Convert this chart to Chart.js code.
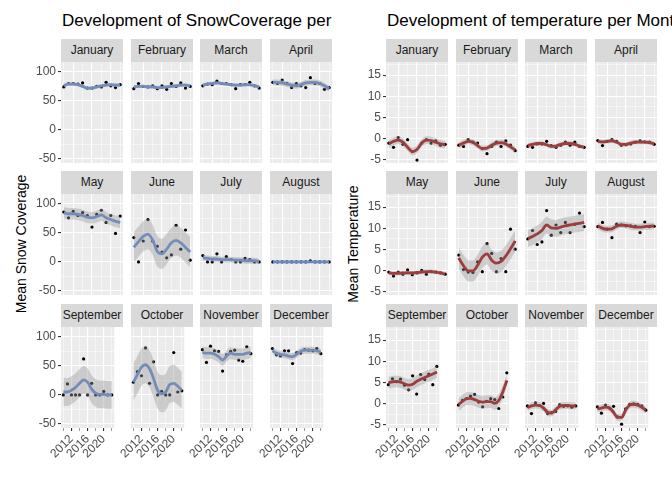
<!DOCTYPE html>
<html><head><meta charset="utf-8">
<script src="https://cdn.jsdelivr.net/npm/chart.js@4"></script>
<style>
body{margin:0;background:#fff;font-family:"Liberation Sans",Arial,sans-serif;}
#wrap{position:relative;width:672px;height:480px;overflow:hidden;}
.half{position:absolute;top:0;height:480px;overflow:hidden;}
.title{position:absolute;top:11px;font-size:17px;color:#000;white-space:nowrap;}
.strip{position:absolute;height:23px;background:#D9D9D9;color:#1A1A1A;font-size:12px;text-align:center;line-height:23px;}
.ylab{position:absolute;font-size:14px;color:#000;transform:rotate(-90deg);white-space:nowrap;}
canvas{position:absolute;}
</style></head>
<body><div id="wrap"></div>
<script>
// Datos: anos y meses
const years = [2010,2011,2012,2013,2014,2015,2016,2017,2018,2019,2020,2021,2022];
const months = ['January','February','March','April','May','June','July','August','September','October','November','December'];

// Cobertura de nieve: puntos, curva suavizada y error
const snowPoints = [
  [74,80,80,79,81,72,72,75,74,82,76,73,78],
  [71,80,75,74,76,71,76,70,80,75,81,72,75],
  [76,79,78,84,80,80,78,71,78,78,82,76,72],
  [82,80,86,80,73,80,76,73,90,80,80,70,73],
  [86,76,87,80,85,80,60,82,89,68,80,49,79],
  [42,0,36,73,36,27,17,7,12,63,22,55,3],
  [11,0,0,14,0,9,4,0,0,6,4,0,0],
  [0,0,0,0,0,0,0,0,2,0,0,0,0],
  [0,19,0,0,0,62,0,20,0,0,6,0,0],
  [22,40,33,81,20,57,0,6,0,0,73,5,7],
  [78,56,84,76,75,41,69,75,77,60,58,83,71],
  [80,69,67,76,76,54,73,72,78,77,76,80,71]
];
const snowSmooth = [
  [76,79,79,78,75,72,72,74,76,77,78,77,77],
  [74,75,75,74,74,73,73,74,75,76,77,77,76],
  [77,79,80,81,80,79,78,77,77,78,78,76,74],
  [82,82,81,79,77,76,78,81,82,82,80,76,71],
  [84,83,83,82,80,77,76,78,81,76,73,70,68],
  [25,35,44,48,38,18,14,22,33,37,33,25,17],
  [7,6,5,5,4,4,4,3,3,2,2,2,1],
  [0,0,0,0,0,0,0,0,0,0,0,0,0],
  [5,5,8,13,20,26,22,10,3,1,1,0,0],
  [22,35,48,52,45,28,8,2,5,18,20,15,8],
  [73,72,72,70,66,60,67,72,70,70,70,72,73],
  [76,72,70,69,67,66,70,75,77,77,77,76,74]
];
const snowSe = [3,3,3,5,10,26,5,1,24,32,10,6];

// Temperatura: puntos, curva suavizada y error
const tempPoints = [
  [-1,-2,0.3,-1.3,-0.2,-3,-5,-1,-0.2,-1,-0.5,-1.5,-1.3],
  [-1.5,-1.8,-0.2,-0.8,-1,-2.3,-3.5,-1.8,-0.8,-1.8,-0.5,-1.5,-2.8],
  [-1.8,-2,-1.2,-1.2,-0.6,-1.6,-2,-1.5,-0.8,-1.5,-0.8,-1.8,-2],
  [-0.4,-1.6,-0.6,-0.2,-0.6,-1.5,-1.4,-1.2,-0.8,-0.5,-0.7,-0.8,-1.3],
  [-0.3,-1.2,-0.3,-0.8,0.2,-0.9,-0.5,0.1,-0.8,-0.2,-0.3,-0.5,-0.8],
  [3.7,0.3,-0.3,-0.4,2.1,-0.2,6.4,4.1,-0.2,2.9,-0.2,9.8,5.1],
  [7.5,9.5,6.2,6.8,14.2,8.4,10.8,9,11.4,9,11,13.6,10.4],
  [10.4,11.4,9.8,7.8,11,10.8,10.6,10.6,10.5,9,11.5,10.4,10.5],
  [4.5,5.9,5.2,5.8,4.4,3.3,6.6,2.3,6.9,5.7,7,4.5,8.8],
  [-0.3,0.8,1.2,1.8,2.2,0.4,-0.7,0.6,1.2,1,-1.1,1.6,7.3],
  [-0.5,-2.3,0.2,-0.4,0.1,-2.3,-2.1,-1.8,-0.2,-0.6,-0.5,-0.8,-0.5],
  [-0.7,-2.2,-0.3,-1,-0.6,-3.1,-4.8,-1.2,-0.1,0,-0.1,-0.5,-1.5]
];
const tempSmooth = [
  [-1.2,-0.6,-0.3,-0.8,-2,-3,-2.5,-1,-0.3,-0.4,-0.8,-1.2,-1.4],
  [-1.5,-1,-0.6,-0.8,-1.6,-2.3,-2.2,-1.5,-1,-0.9,-1.2,-1.9,-2.6],
  [-1.6,-1.3,-1.1,-1.1,-1.4,-1.8,-1.7,-1.3,-1.1,-1.1,-1.3,-1.7,-2],
  [-0.6,-0.7,-0.6,-0.5,-0.8,-1.3,-1.3,-1,-0.8,-0.8,-0.8,-0.9,-1.2],
  [-0.5,-0.6,-0.6,-0.5,-0.5,-0.5,-0.4,-0.3,-0.2,-0.2,-0.3,-0.5,-0.8],
  [3,1.2,0,0,1.3,3.2,4,2.5,1.8,2.2,3.5,5.2,7],
  [7.6,8.1,8.7,9.5,10.8,10.1,10,10.3,10.6,10.8,11,11.2,11.4],
  [10.6,10,9.8,9.9,10.5,10.8,10.7,10.5,10.3,10.3,10.4,10.5,10.6],
  [5,5.2,5.3,5.1,4.7,4.4,4.6,5.3,5.8,6.2,6.6,7,7.5],
  [-0.2,0.6,1.2,1.3,1,0.6,0.4,0.5,0.5,0.1,0.8,2.8,5.5],
  [-0.9,-0.5,-0.3,-0.4,-1,-2,-2.2,-1.4,-0.6,-0.4,-0.4,-0.5,-0.5],
  [-1.2,-1,-0.8,-1,-2,-3.2,-3.2,-1.5,-0.3,-0.1,-0.3,-0.8,-1.5]
];
const tempSe = [0.9,0.7,0.5,0.5,0.5,2.5,2,0.8,1.4,1.5,0.8,0.8];

const $ = (id) => document.getElementById(id);
const wrap = $('wrap');

// Fondo gris del panel
const bgPlugin = {
  id: 'bg',
  beforeDraw(chart) {
    const a = chart.chartArea, ctx = chart.ctx;
    ctx.save(); ctx.fillStyle = '#EBEBEB';
    ctx.fillRect(a.left, a.top, a.right - a.left, a.bottom - a.top);
    ctx.restore();
  }
};

// Etiquetas del eje y dibujadas con la escala (solo primera columna)
const yLabelPlugin = {
  id: 'ylabels',
  afterDraw(chart, args, opts) {
    if (!opts.show) return;
    const s = chart.scales.y, ctx = chart.ctx;
    ctx.save();
    ctx.fillStyle = '#4D4D4D'; ctx.font = '12px "Liberation Sans"';
    ctx.textAlign = 'right'; ctx.textBaseline = 'middle';
    opts.values.forEach(v => ctx.fillText(String(v), s.left + s.width - 5, s.getPixelForValue(v)));
    ctx.restore();
  }
};

const colTops = [62, 194, 327];
const panelH = 101, panelW = 62, yAxisW = 36, xAxisH = 44;

const makeHalf = (cfg) => {
  const half = document.createElement('div');
  half.className = 'half';
  half.style.left = cfg.left + 'px';
  half.style.width = cfg.width + 'px';
  wrap.appendChild(half);

  const t = document.createElement('div');
  t.className = 'title'; t.style.left = (cfg.cols[0] - cfg.left + 1) + 'px';
  t.textContent = cfg.title; half.appendChild(t);

  const yl = document.createElement('div');
  yl.className = 'ylab'; yl.textContent = cfg.ylabel;
  yl.style.left = (cfg.ylabX - 100) + 'px'; yl.style.top = '236px';
  yl.style.width = '200px'; yl.style.textAlign = 'center';
  half.appendChild(yl);

  for (let m = 0; m < 12; m++) {
    const r = Math.floor(m / 4), c = m % 4;
    const px = cfg.cols[c] - cfg.left, py = colTops[r];
    const s = document.createElement('div');
    s.className = 'strip';
    s.style.left = px + 'px'; s.style.top = (py - 23) + 'px'; s.style.width = panelW + 'px';
    s.textContent = months[m]; half.appendChild(s);

    const first = c === 0, bottom = r === 2;
    const w = panelW + yAxisW, h = panelH + (bottom ? xAxisH : 0);
    const cv = document.createElement('canvas');
    cv.style.left = (px - yAxisW) + 'px'; cv.style.top = py + 'px';
    cv.style.width = w + 'px'; cv.style.height = h + 'px';
    half.appendChild(cv);

    const sm = cfg.smooth[m], se = cfg.se[m];
    const xy = (arr) => arr.map((v, i) => ({x: years[i], y: v}));
    new Chart(cv, {
      type: 'line',
      data: { datasets: [
        { data: xy(sm.map(v => v - se)), borderWidth: 0, pointRadius: 0, fill: false, cubicInterpolationMode: 'monotone' },
        { data: xy(sm.map(v => v + se)), borderWidth: 0, pointRadius: 0, fill: '-1', backgroundColor: 'rgba(153,153,153,0.4)', cubicInterpolationMode: 'monotone' },
        { data: xy(sm), borderColor: cfg.color, borderWidth: 2.8, pointRadius: 0, fill: false, cubicInterpolationMode: 'monotone' },
        { data: xy(cfg.points[m]), showLine: false, pointRadius: 1.6, pointBackgroundColor: '#000', pointBorderWidth: 0 }
      ]},
      options: {
        responsive: false, animation: false, events: [],
        layout: { padding: 0, autoPadding: false },
        plugins: { legend: { display: false }, tooltip: { enabled: false },
                   ylabels: { show: first, values: cfg.labels } },
        scales: {
          x: {
            type: 'linear', min: 2009.4, max: 2022.6,
            border: { display: false },
            grid: { color: '#fff', lineWidth: (ctx) => (ctx.tick && ctx.tick.value % 4 === 0) ? 1.1 : 0.5,
                    drawTicks: bottom, tickLength: 3, tickColor: '#333' },
            ticks: { display: bottom, stepSize: 2, includeBounds: false, autoSkip: false,
                     minRotation: 45, maxRotation: 45, color: '#4D4D4D', padding: 1,
                     font: { family: 'Liberation Sans', size: 12 },
                     callback: (v) => v % 4 === 0 ? String(v) : '' },
            afterFit: (s) => { s.height = bottom ? xAxisH : 0; }
          },
          y: {
            min: cfg.ymin, max: cfg.ymax,
            border: { display: false },
            grid: { color: '#fff', lineWidth: (ctx) => (ctx.tick && ctx.tick.value % cfg.major === 0) ? 1.1 : 0.5,
                    drawTicks: first, tickLength: 3, tickColor: (ctx) => (ctx.tick && ctx.tick.value % cfg.major === 0) ? '#333' : 'rgba(0,0,0,0)' },
            ticks: { display: false, stepSize: cfg.major / 2, includeBounds: false },
            afterFit: (s) => { s.width = yAxisW; }
          }
        }
      },
      plugins: [bgPlugin, yLabelPlugin]
    });
  }
};

makeHalf({ left: 0, width: 336, cols: [61, 131, 200, 270], title: 'Development of SnowCoverage per Month',
  ylabel: 'Mean Snow Coverage', ylabX: 21, color: '#5B86D1', labels: [-50, 0, 50, 100],
  points: snowPoints, smooth: snowSmooth, se: snowSe, ymin: -57, ymax: 117, major: 50 });
makeHalf({ left: 336, width: 336, cols: [386, 456, 525, 595], title: 'Development of temperature per Month',
  ylabel: 'Mean Temperature', ylabX: 17, color: '#A00000', labels: [-5, 0, 5, 10, 15],
  points: tempPoints, smooth: tempSmooth, se: tempSe, ymin: -5.7, ymax: 18.1, major: 5 });
</script></body></html>
